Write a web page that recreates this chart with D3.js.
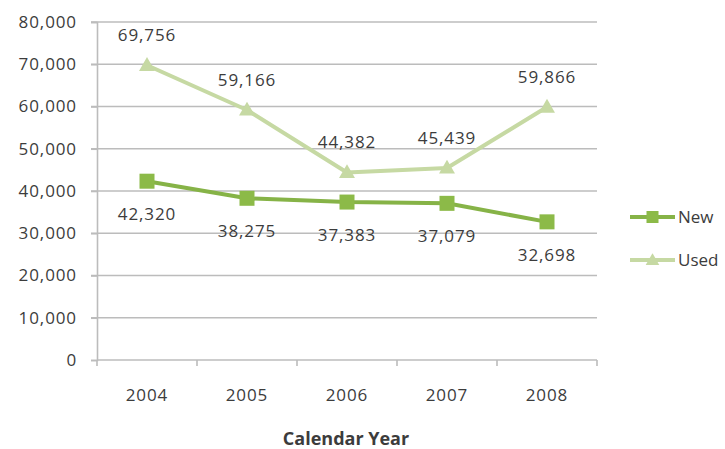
<!DOCTYPE html>
<html>
<head>
<meta charset="utf-8">
<script src="https://cdn.jsdelivr.net/npm/d3@7"></script>
<style>
  html, body { margin: 0; padding: 0; background: #fff; }
  svg { display: block; }
  text { font-family: "Open Sans", "Noto Sans", sans-serif; fill: #3c3c3c; }
</style>
</head>
<body>
<svg id="chart" width="725" height="449"></svg>
<script>
// Vehicle counts by calendar year
const years = ["2004", "2005", "2006", "2007", "2008"];
const newValues = [42320, 38275, 37383, 37079, 32698];
const usedValues = [69756, 59166, 44382, 45439, 59866];
const yTicks = [0, 10000, 20000, 30000, 40000, 50000, 60000, 70000, 80000];
const seriesNames = ["New", "Used"];

const svg = d3.select("#chart");
const plot = { left: 97, right: 597, top: 22, bottom: 360 };

const x = d3.scaleBand().domain(years).range([plot.left, plot.right]);
const y = d3.scaleLinear().domain([0, 80000]).range([plot.bottom, plot.top]);
const fmt = d3.format(",");

const gridColor = "#bcbcbc";
const newColor = "#8cba48";
const newLine = "#86b347";
const usedColor = "#c6d9a3";

// horizontal gridlines
svg.append("g")
  .selectAll("line")
  .data(yTicks.filter(d => d > 0))
  .join("line")
  .attr("x1", plot.left - 6).attr("x2", plot.right)
  .attr("y1", d => y(d)).attr("y2", d => y(d))
  .attr("stroke", gridColor).attr("stroke-width", 1.6);

// y axis
const yAxis = svg.append("g")
  .attr("transform", `translate(${plot.left},0)`)
  .call(d3.axisLeft(y).tickValues(yTicks).tickFormat(fmt).tickSize(6).tickPadding(14));
yAxis.select(".domain").attr("stroke", gridColor).attr("stroke-width", 1.6);
yAxis.selectAll(".tick line").attr("stroke", gridColor).attr("stroke-width", 1.6);
yAxis.selectAll(".tick text")
  .attr("font-size", 17).attr("fill", "#3c3c3c")
  .style("letter-spacing", "0.9px")
  .attr("font-family", "'Open Sans', sans-serif");

// x axis with ticks between categories
const xAxisG = svg.append("g").attr("transform", `translate(0,${plot.bottom})`);
xAxisG.append("line")
  .attr("x1", plot.left).attr("x2", plot.right)
  .attr("stroke", gridColor).attr("stroke-width", 1.6);
const boundaries = years.map(d => x(d)).concat([x(years[years.length - 1]) + x.bandwidth()]);
xAxisG.selectAll("line.tk")
  .data(boundaries)
  .join("line").attr("class", "tk")
  .attr("x1", d => d).attr("x2", d => d)
  .attr("y1", 0).attr("y2", 6)
  .attr("stroke", gridColor).attr("stroke-width", 1.6);
xAxisG.selectAll("text")
  .data(years)
  .join("text")
  .attr("x", d => x(d) + x.bandwidth() / 2)
  .attr("y", 41)
  .attr("text-anchor", "middle")
  .attr("font-size", 17)
  .style("letter-spacing", "0.9px")
  .text(d => d);

// axis title
svg.append("text")
  .attr("x", 346)
  .attr("y", 445)
  .attr("text-anchor", "middle")
  .attr("font-size", 18)
  .attr("font-weight", "bold")
  .attr("fill", "#262626")
  .text("Calendar Year");

const cx = d => x(d) + x.bandwidth() / 2;
const lineGen = d3.line().x(d => cx(d.year)).y(d => y(d.value));

const newData = years.map((yr, i) => ({ year: yr, value: newValues[i] }));
const usedData = years.map((yr, i) => ({ year: yr, value: usedValues[i] }));

const triangle = d3.symbol().type(d3.symbolTriangle).size(110);

// Used series
svg.append("path").datum(usedData)
  .attr("d", lineGen).attr("fill", "none")
  .attr("stroke", usedColor).attr("stroke-width", 4).attr("stroke-linejoin", "round");
svg.append("g").selectAll("path")
  .data(usedData).join("path")
  .attr("d", triangle)
  .attr("transform", d => `translate(${cx(d.year)},${y(d.value) + 1})`)
  .attr("fill", usedColor);
svg.append("g").selectAll("text")
  .data(usedData).join("text")
  .attr("x", d => cx(d.year))
  .attr("y", d => y(d.value) - 24)
  .attr("text-anchor", "middle")
  .attr("font-size", 17)
  .style("letter-spacing", "0.9px")
  .text(d => fmt(d.value));

// New series
svg.append("path").datum(newData)
  .attr("d", lineGen).attr("fill", "none")
  .attr("stroke", newLine).attr("stroke-width", 4).attr("stroke-linejoin", "round");
svg.append("g").selectAll("rect")
  .data(newData).join("rect")
  .attr("x", d => cx(d.year) - 7.5)
  .attr("y", d => y(d.value) - 7.5)
  .attr("width", 15).attr("height", 15)
  .attr("fill", newColor);
svg.append("g").selectAll("text")
  .data(newData).join("text")
  .attr("x", d => cx(d.year))
  .attr("y", d => y(d.value) + 39)
  .attr("text-anchor", "middle")
  .attr("font-size", 17)
  .style("letter-spacing", "0.9px")
  .text(d => fmt(d.value));

// legend
const legend = svg.append("g");
const legendRows = [
  { name: seriesNames[0], color: newLine, marker: "square", fill: newColor, yPos: 217 },
  { name: seriesNames[1], color: usedColor, marker: "triangle", fill: usedColor, yPos: 260 }
];
legendRows.forEach(r => {
  legend.append("line")
    .attr("x1", 630).attr("x2", 675)
    .attr("y1", r.yPos).attr("y2", r.yPos)
    .attr("stroke", r.color).attr("stroke-width", 4);
  if (r.marker === "square") {
    legend.append("rect")
      .attr("x", 652.5 - 6).attr("y", r.yPos - 6)
      .attr("width", 12).attr("height", 12).attr("fill", r.fill);
  } else {
    legend.append("path")
      .attr("d", d3.symbol().type(d3.symbolTriangle).size(80)())
      .attr("transform", `translate(652.5,${r.yPos + 1})`)
      .attr("fill", r.fill);
  }
  legend.append("text")
    .attr("x", 678).attr("y", r.yPos + 6)
    .attr("font-size", 17)
    .text(r.name);
});
</script>
</body>
</html>
